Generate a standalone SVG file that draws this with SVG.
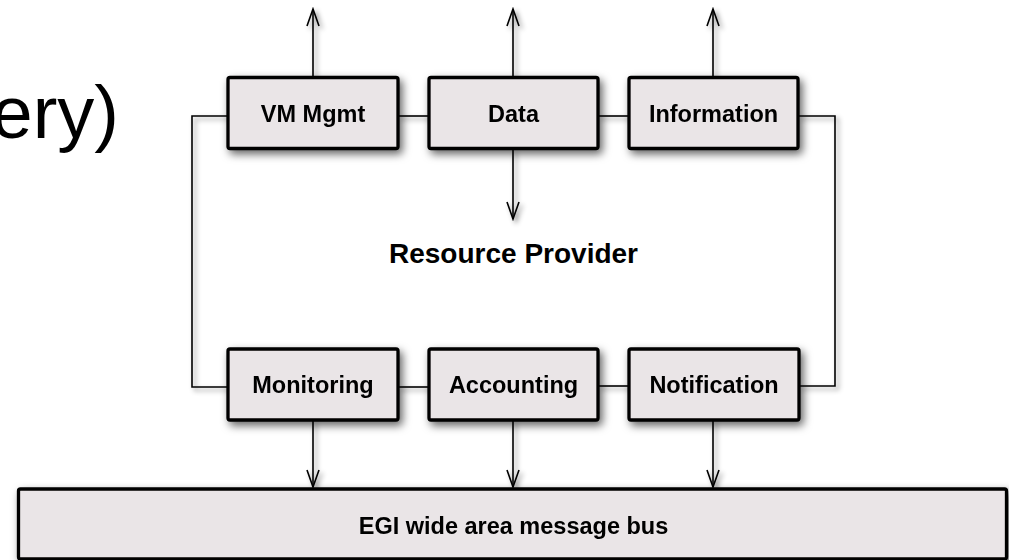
<svg xmlns="http://www.w3.org/2000/svg" width="1009" height="560" viewBox="0 0 1009 560">
<style>
.box{fill:#EAE5E7;stroke:#000;stroke-width:3.3}
.lbl{font-family:"Liberation Sans",Arial,sans-serif;font-weight:bold;font-size:23.5px;text-anchor:middle;fill:#000}
.conn{fill:none;stroke:#000;stroke-width:1.6}
</style>
<defs>
<filter id="sh" x="-20%" y="-30%" width="140%" height="170%">
<feDropShadow dx="3" dy="4" stdDeviation="4" flood-color="#000" flood-opacity="0.6"/>
</filter>
<filter id="shl" x="-20%" y="-20%" width="140%" height="140%">
<feDropShadow dx="3" dy="3" stdDeviation="2.5" flood-color="#000" flood-opacity="0.45"/>
</filter>
<marker id="arr" markerUnits="userSpaceOnUse" markerWidth="20" markerHeight="16" viewBox="-18 -8 20 16" refX="0" refY="0" orient="auto">
<path d="M-17,-6 L0,0 L-17,6" fill="none" stroke="#000" stroke-width="1.6"/>
</marker>
</defs>
<rect width="1009" height="560" fill="#fff"/>
<text x="119" y="138" font-family="Liberation Sans,Arial,sans-serif" font-size="74" text-anchor="end" fill="#000">ery)</text>
<text x="513.5" y="263" class="lbl" style="font-size:28px">Resource Provider</text>
<g id="connectors" filter="url(#shl)">
<path class="conn" d="M228,116 H192 V387 H228"/>
<path class="conn" d="M798,116 H835 V386 H799"/>
<path class="conn" d="M398,116 H429"/>
<path class="conn" d="M598,116 H629"/>
<path class="conn" d="M398,387 H429"/>
<path class="conn" d="M598,386 H629"/>
<path class="conn" d="M313,77 V9" marker-end="url(#arr)"/>
<path class="conn" d="M513,77 V9" marker-end="url(#arr)"/>
<path class="conn" d="M713,77 V9" marker-end="url(#arr)"/>
<path class="conn" d="M513,149 V219" marker-end="url(#arr)"/>
<path class="conn" d="M313,420 V487" marker-end="url(#arr)"/>
<path class="conn" d="M513,420 V487" marker-end="url(#arr)"/>
<path class="conn" d="M713,420 V487" marker-end="url(#arr)"/>
</g>
<g id="vm-mgmt" filter="url(#sh)">
<rect class="box" x="228" y="77.5" width="170" height="71" rx="2"/>
<text class="lbl" x="313" y="122">VM Mgmt</text>
</g>
<g id="data" filter="url(#sh)">
<rect class="box" x="429" y="77.5" width="169" height="71" rx="2"/>
<text class="lbl" x="513.5" y="122">Data</text>
</g>
<g id="information" filter="url(#sh)">
<rect class="box" x="629" y="77.5" width="169" height="71" rx="2"/>
<text class="lbl" x="713.5" y="122">Information</text>
</g>
<g id="monitoring" filter="url(#sh)">
<rect class="box" x="228" y="349" width="170" height="71" rx="2"/>
<text class="lbl" x="313" y="393">Monitoring</text>
</g>
<g id="accounting" filter="url(#sh)">
<rect class="box" x="429" y="349" width="169" height="71" rx="2"/>
<text class="lbl" x="513.5" y="393">Accounting</text>
</g>
<g id="notification" filter="url(#sh)">
<rect class="box" x="629" y="349" width="170" height="71" rx="2"/>
<text class="lbl" x="714" y="393">Notification</text>
</g>
<g id="egi-bus" filter="url(#sh)">
<rect class="box" x="18.5" y="489" width="988" height="70" rx="2"/>
<text class="lbl" x="513.5" y="534">EGI wide area message bus</text>
</g>
</svg>
